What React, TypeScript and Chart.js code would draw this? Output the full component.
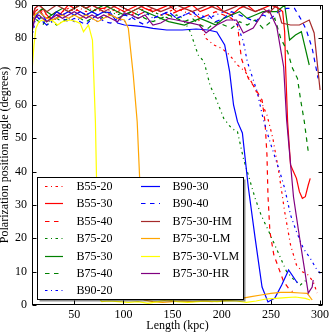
import React, { useEffect, useRef } from 'react';
import { Chart, registerables } from 'chart.js';

Chart.register(...registerables);

const FONT = '"Liberation Serif", "Times New Roman", serif';

// ---- data ----
const xTicks = [50, 100, 150, 200, 250, 300];
const yTicks = [0, 10, 20, 30, 40, 50, 60, 70, 80, 90];

const b5520X = [7,10,14,18,22,27,32,38,44,50,56,62,68,74,80,87,94,101,108,115,122,130,138,146,154,162,170,176,184,192,200,208,216,224,232,240,246,252,258,264,270,276,282,288,293,297];
const b5520Y = [84,88,89,88,87,86,87,88,89,88,89,88,89,88,89,88,89,88,87,88,89,88,87,88,89,88,87,86,80,78,77,75,72,70,66,61,57,50,40,28,18,12,10,9,7,3.6];

const b5530X = [7,10,14,18,22,27,32,38,44,50,56,62,68,74,80,87,94,101,108,115,122,130,138,146,154,162,170,178,186,194,202,210,218,226,234,242,250,258,262,264,265,267,270,273,276,279,282,285,288,290];
const b5530Y = [86,89,90,89,87,85.5,86,88,90,89,90,89,90,89,89,90,89,88,89,90,89,88,89,90,88,89,90,88,89,90,88,87,89,90,88,89,90,89,88,82,71,55,42,40,38,34,32,32.5,36,38];

const b5540X = [7,10,14,18,22,27,32,38,44,50,56,62,68,74,80,87,94,101,108,115,122,130,138,146,154,162,170,178,186,194,202,210,216,220,227,234,241,244,246,247,249,253,258,263,268,272];
const b5540Y = [85,88,89,87,86,87,88,87,88,89,88,87,88,89,88,87,88,89,88,87,88,89,88,87,88,89,88,86,87,88,87,86,84,74,68,65,61.5,55,45,33,22,15,11,7,5,4];

const b7520X = [7,10,14,18,22,27,32,38,44,50,56,62,68,74,80,87,94,101,108,115,122,130,138,146,154,160,168,176,182,188,194,202,210,216,222,228,234,240,248,254,260,266,272,280,288];
const b7520Y = [82,86,87,85,84,85,84,85,86,87,88,87,88,87,86,88,87,88,87,86,87,88,87,86,87,86,82,75,73,66,62,56,53,52,44,38,32,27,22,18,14,10,8,6,8];

const b7530X = [7,10,14,18,22,27,32,38,44,50,56,62,68,74,80,87,94,101,108,115,122,130,138,146,154,162,170,178,186,194,202,210,218,226,234,242,250,256,264,269,275,281,289];
const b7530Y = [83,87,88,89,88,87,88,89,88,89,90,89,88,89,90,89,88,87,88,89,88,87,86,85,84.5,84,85,86,85,84,86,87,88,86,87,88,88,88,90,79.5,81,82,72];

const b7540X = [7,10,14,18,22,27,32,38,44,50,56,62,68,74,80,87,94,101,108,115,122,130,138,146,154,162,170,178,186,194,202,210,218,226,234,242,250,254,260,267,272,277,280,284,288];
const b7540Y = [84,86,85,84,86,87,86,85,86,87,86,85,86,87,88,87,86,87,88,87,86,85,86,87,86,85,86,84,83,85,84,83,85,84,85.5,83,85,86,80,76,71,68,62,55,46];

const b9020X = [7,10,14,18,22,27,32,38,44,50,56,62,68,74,80,87,94,101,108,115,122,130,138,146,154,162,170,178,186,194,202,210,216,222,226,236,242,249,259,264,270,276,283,290,297,302];
const b9020Y = [80,85,86,85,84,85,86,87,86,85,86,87,86,85,86,87,86,85,86,87,88,86,87,88,86,87,88,87,86,87,88,87,84,79,73,64,56,49,40,35,27,22,17,14,10.5,9];

const b9030X = [7,10,14,18,22,27,32,38,44,50,56,62,68,74,80,87,94,101,110,120,130,144,160,174,186,195,203,208,212,216,221,224,227,234,241,247,254,261,268,277];
const b9030Y = [83,86,88,87,85,86,88,87,88,87,88,87,88,87,88,87.6,84.6,84,83.8,83.5,83,82.5,82.5,82.8,82.5,81.9,78,70,60,55,51.6,43.5,35.4,20,5.4,0.9,2.1,6,10.5,6.6];

const b9040X = [7,10,14,18,22,27,32,38,44,50,56,62,68,74,80,87,94,101,108,115,122,130,138,146,154,162,170,178,186,194,202,210,218,226,234,242,250,258,266,274,282,286,292,298];
const b9040Y = [85,87,86,85,84,86,87,86,85,86,85,84,86,87,85,84.6,86,87,86.4,85,84,86,87,88,86,87,88,86,87,85,86,88,87,86,85,87,86,88,89,89,85,82.5,77,68];

const hmX = [7,10,14,18,22,27,32,38,44,50,56,62,68,74,80,87,94,101,108,115,122,130,138,146,154,162,170,178,186,194,202,210,218,226,234,242,248,256,261,270,279,289,294,300];
const hmY = [86,89,90,89,88,89,90,89,88,89,90,89,90,89,88,89,90,89,88,89,90,89,88,89,90,89,88,89,90,89,88,89,90,89,88,89,87.6,90,84.6,84,84,85.5,81.6,64.5];

const lmX = [7,10,14,18,22,27,32,38,44,50,56,62,68,74,80,87,94,101,105,110,114,116.5,119,121,130,140,150,160,170,180,190,200,210,220,230,240,250,260,270,280,287,292];
const lmY = [84,87,88,87,86,85.5,86,87,86,87,86,87,86,85,86,87,86,85.5,83,69,55,38,10,1.5,1,0.8,1,1.2,1,1.2,1,1.2,1.5,2,2.5,3,3.5,3.8,3.8,3.6,3.5,1.5];

const vlmX = [7,9,11,14,18,22,27,33,38,46,52,56,59.4,64.5,68.5,71.5,73.5,75,78,85,95,105,115,125,135,145,155,165,175,185,195,205,215,225,235,245,255,265,275,285,290];
const vlmY = [70,78,83,85,85.5,85,85.5,84,85,85.5,85,84.5,82,84,79.5,55,25,2,1,1.2,1,0.8,1,0.5,1,1.5,1,0.8,1,1.2,1,1.3,1.2,0.8,1.2,1.8,2,2.2,2.4,2,1.5];

const hrX = [7,10,14,18,22,27,32,38,44,50,56,62,68,74,80,87,94,101,108,115,122,130,138,146,154,162,170,177,184,195,205,215,222,232,242,248,256,263,266,273,278,280,288,292,293];
const hrY = [82,86,87,86,85,86,87,86,87,88,87,86,87,86,87,86,85,87.6,87,86,87,84,84.6,86,85.5,85,84.5,84,81.6,84,85.5,85.5,81.6,83.1,87.6,88.5,83.4,71.4,55.5,32.4,22.5,18.6,3.6,5.4,7.5];

// ---- styles ----
const DASHED = [4.5, 4.5];
const DASHDOT = [2.5, 3.5, 1, 3.5];
const SOLID: number[] = [];

const seriesDefs = [
  { label: 'B55-20', color: '#ff0000', dash: DASHDOT, x: b5520X, y: b5520Y },
  { label: 'B55-30', color: '#ff0000', dash: SOLID, x: b5530X, y: b5530Y },
  { label: 'B55-40', color: '#ff0000', dash: DASHED, x: b5540X, y: b5540Y },
  { label: 'B75-20', color: '#008000', dash: DASHDOT, x: b7520X, y: b7520Y },
  { label: 'B75-30', color: '#008000', dash: SOLID, x: b7530X, y: b7530Y },
  { label: 'B75-40', color: '#008000', dash: DASHED, x: b7540X, y: b7540Y },
  { label: 'B90-20', color: '#0000ff', dash: DASHDOT, x: b9020X, y: b9020Y },
  { label: 'B90-30', color: '#0000ff', dash: SOLID, x: b9030X, y: b9030Y },
  { label: 'B90-40', color: '#0000ff', dash: DASHED, x: b9040X, y: b9040Y },
  { label: 'B75-30-HM', color: '#a52a2a', dash: SOLID, x: hmX, y: hmY },
  { label: 'B75-30-LM', color: '#ffa500', dash: SOLID, x: lmX, y: lmY },
  { label: 'B75-30-VLM', color: '#ffff00', dash: SOLID, x: vlmX, y: vlmY },
  { label: 'B75-30-HR', color: '#800080', dash: SOLID, x: hrX, y: hrY },
];

const boxLegend = {
  id: 'boxLegend',
  afterDatasetsDraw(chart: any) {
    const ctx = chart.ctx;
    const bx = 37.5, by = 177.5, bw = 206, bh = 122;
    ctx.save();
    ctx.fillStyle = 'rgba(0,0,0,0.45)';
    ctx.fillRect(bx + 2, by + 2, bw, bh);
    ctx.fillStyle = '#ffffff';
    ctx.fillRect(bx, by, bw, bh);
    ctx.strokeStyle = '#000';
    ctx.lineWidth = 1;
    ctx.setLineDash([]);
    ctx.strokeRect(bx, by, bw, bh);
    ctx.font = `12px ${FONT}`;
    ctx.textBaseline = 'middle';
    ctx.textAlign = 'left';
    const perCol = 7;
    chart.data.datasets.forEach((ds: any, i: number) => {
      const col = Math.floor(i / perCol);
      const row = i % perCol;
      const cy = Math.round(by + 8.5 + row * 17.4) + 0.5;
      const lx0 = col === 0 ? 45 : 141;
      const lx1 = col === 0 ? 63 : 160;
      const tx = col === 0 ? 76.5 : 172.5;
      ctx.strokeStyle = ds.borderColor;
      ctx.lineWidth = 1.2;
      ctx.setLineDash(ds.borderDash || []);
      ctx.beginPath();
      ctx.moveTo(lx0, cy);
      ctx.lineTo(lx1, cy);
      ctx.stroke();
      ctx.setLineDash([]);
      ctx.fillStyle = '#000';
      ctx.fillText(ds.label, tx, cy);
    });
    ctx.restore();
  },
};

const frameTicks = {
  id: 'frameTicks',
  afterDraw(chart: any) {
    const ctx = chart.ctx;
    const { left, right, top, bottom } = chart.chartArea;
    const xs = chart.scales.x;
    const ys = chart.scales.y;
    const L = Math.round(left) + 0.5, R = Math.round(right) - 0.5;
    const T = Math.round(top) + 0.5, B = Math.round(bottom) - 0.5;
    ctx.save();
    ctx.strokeStyle = '#000';
    ctx.lineWidth = 1;
    ctx.setLineDash([]);
    ctx.beginPath();
    xs.ticks.forEach((t: any) => {
      const px = Math.round(xs.getPixelForValue(t.value)) + 0.5;
      ctx.moveTo(px, B); ctx.lineTo(px, B - 4);
      ctx.moveTo(px, T); ctx.lineTo(px, T + 4);
    });
    ys.ticks.forEach((t: any) => {
      const py = Math.round(ys.getPixelForValue(t.value)) + 0.5;
      ctx.moveTo(L, py); ctx.lineTo(L + 4, py);
      ctx.moveTo(R, py); ctx.lineTo(R - 4, py);
    });
    ctx.stroke();
    ctx.strokeRect(L, T, R - L, B - T);
    ctx.restore();
  },
};

export default function App() {
  const ref = useRef<HTMLCanvasElement | null>(null);
  useEffect(() => {
    if (!ref.current) return;
    const n = seriesDefs.length;
    const chart = new Chart(ref.current, {
      type: 'line',
      data: {
        datasets: seriesDefs.map((s, i) => ({
          label: s.label,
          data: s.x.map((xv, k) => ({ x: xv, y: s.y[k] })),
          borderColor: s.color,
          backgroundColor: s.color,
          borderDash: s.dash,
          borderWidth: 1.2,
          pointRadius: 0,
          tension: 0,
          fill: false,
          order: n - i,
        })),
      },
      options: {
        responsive: false,
        animation: false,
        events: [],
        layout: { padding: { top: 5, right: 9, bottom: 0, left: 0 } },
        plugins: { legend: { display: false }, tooltip: { enabled: false } },
        scales: {
          x: {
            type: 'linear',
            min: 7,
            max: 303,
            afterBuildTicks: (s: any) => { s.ticks = xTicks.map((v) => ({ value: v })); },
            afterFit: (s: any) => { s.height = 28; s.paddingLeft = 0; s.paddingRight = 0; s.paddingTop = 0; s.paddingBottom = 0; },
            grid: { display: false, drawTicks: false },
            border: { display: false },
            ticks: { font: { family: FONT, size: 12 }, color: '#000', padding: 3, maxRotation: 0, autoSkip: false },
            title: { display: true, text: 'Length (kpc)', font: { family: FONT, size: 12 }, color: '#000', padding: 0 },
          },
          y: {
            type: 'linear',
            min: 0,
            max: 90,
            afterBuildTicks: (s: any) => { s.ticks = yTicks.map((v) => ({ value: v })); },
            afterFit: (s: any) => { s.width = 32; s.paddingLeft = 0; s.paddingRight = 0; s.paddingTop = 0; s.paddingBottom = 0; },
            grid: { display: false, drawTicks: false },
            border: { display: false },
            ticks: { font: { family: FONT, size: 12 }, color: '#000', padding: 5 },
            title: { display: true, text: 'Polarization position angle (degrees)', font: { family: FONT, size: 12 }, color: '#000', padding: { top: -2, bottom: 0 } },
          },
        },
      },
      plugins: [boxLegend, frameTicks],
    } as any);
    return () => chart.destroy();
  }, []);
  return (
    <div style={{ position: 'absolute', left: 0, top: 0, width: 332, height: 333, background: '#fff' }}>
      <canvas ref={ref} width={332} height={333} style={{ display: 'block', width: 332, height: 333 }} />
    </div>
  );
}
